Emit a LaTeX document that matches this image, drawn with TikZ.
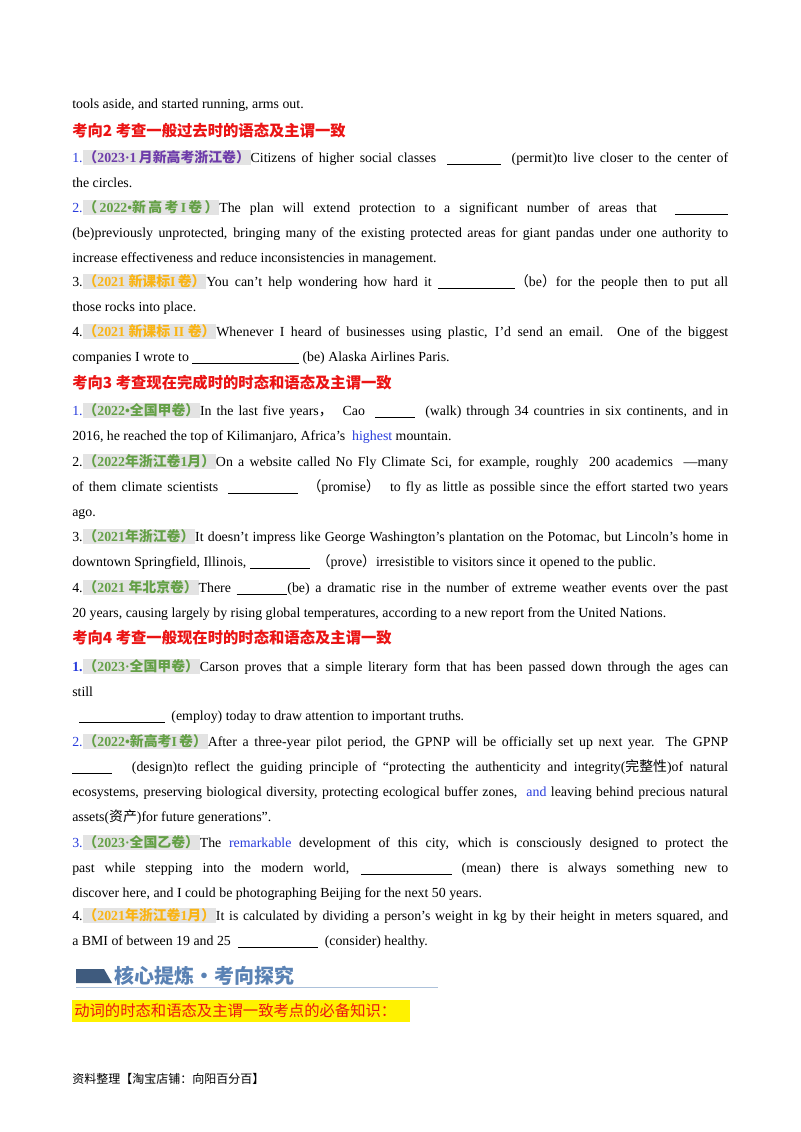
\documentclass[tikz,border=0pt]{standalone}
\usepackage{fontspec}
\setmainfont{Liberation Serif}
\newfontfamily\cjk{Noto Sans CJK SC}
\hyphenpenalty=10000
\definecolor{lblue}{RGB}{40,60,220}
\definecolor{lpurp}{RGB}{110,60,170}
\definecolor{lgreen}{RGB}{100,160,70}
\definecolor{lorange}{RGB}{250,180,20}
\definecolor{hred}{RGB}{235,20,20}
\definecolor{hdr}{RGB}{90,130,180}
\newcommand{\lab}[2]{{\setlength{\fboxsep}{0.6pt}\colorbox{gray!22}{\bfseries\color{#1}#2}}}
\newcommand{\C}[1]{{\cjk #1}}
\newcommand{\blank}[1]{\rule[-1.5pt]{#1}{0.5pt}}
\newcommand{\bl}[1]{{\color{lblue}#1}}
\tikzset{x=0.75pt,y=-0.75pt,
 para/.style={anchor=north west,inner sep=0pt,text width=492pt,align=justify,font=\fontsize{10.4pt}{18.75pt}\selectfont},
 head/.style={anchor=west,inner sep=0pt,font=\cjk\bfseries\fontsize{11.5pt}{14pt}\selectfont,text=hred}}
\begin{document}
\begin{tikzpicture}
\useasboundingbox[fill=white] (0,0) rectangle (800,1132);
\node[para] (p0) at (72,104-13) {\strut tools aside, and started running, arms out.\par};
\node[head] (h2) at (72,131) {考向2\ 考查一般过去时的语态及主谓一致};
\node[para] (q1) at (72,158-13) {\strut \bl{1.}\lab{lpurp}{\C{（}2023·1\,\C{月新高考浙江卷）}}Citizens of higher social classes \ \blank{40pt}\ \ (permit)to live closer to the center of\linebreak the circles.\par};
\node[para] (q2) at (72,208-13) {\strut \bl{2.}\lab{lgreen}{\C{（}\,2022•\C{新\,高\,考\,}I\,\C{卷\,）}}The plan will extend protection to a significant number of areas that \ \blank{40pt}\linebreak (be)previously unprotected, bringing many of the existing protected areas for giant pandas under one authority to\linebreak increase effectiveness and reduce inconsistencies in management.\par};
\node[para] (q3) at (72,282-13) {\strut 3.\lab{lorange}{\C{（}2021 \C{新课标}I\,\C{卷）}}You can’t help wondering how hard it \blank{58pt}\C{（}be\C{）}for the people then to put all\linebreak those rocks into place.\par};
\node[para] (q4) at (72,332-13) {\strut 4.\lab{lorange}{\C{（}2021 \C{新课标} II \C{卷）}}Whenever I heard of businesses using plastic, I'd send an email. One of the biggest\linebreak companies I wrote to \blank{80pt} (be) Alaska Airlines Paris.\par};
\node[head] (h3) at (72,383) {考向3\ 考查现在完成时的时态和语态及主谓一致};
\node[para] (r1) at (72,411-13) {\strut \bl{1.}\lab{lgreen}{\C{（}2022•\C{全国甲卷）}}In the last five years\C{，}\ \ Cao \ \blank{30pt}\ \ (walk) through 34 countries in six continents, and in\linebreak 2016, he reached the top of Kilimanjaro, Africa’s \ \bl{highest}\ mountain.\par};
\node[para] (r2) at (72,462-13) {\strut 2.\lab{lgreen}{\C{（}2022\C{年浙江卷}1\C{月）}}On a website called No Fly Climate Sci, for example, roughly \ 200 academics \ —many\linebreak of them climate scientists \ \blank{52pt} \ \C{（}promise\C{）} \ to fly as little as possible since the effort started two years\linebreak ago.\par};
\node[para] (r3) at (72,537-13) {\strut 3.\lab{lgreen}{\C{（}2021\C{年浙江卷）}}It doesn't impress like George Washington's plantation on the Potomac, but Lincoln's home in\linebreak downtown Springfield, Illinois, \blank{45pt} \ \C{（}prove\C{）}irresistible to visitors since it opened to the public.\par};
\node[para] (r4) at (72,588-13) {\strut 4.\lab{lgreen}{\C{（}2021 \C{年北京卷）}}There \blank{38pt}(be) a dramatic rise in the number of extreme weather events over the past\linebreak 20 years, causing largely by rising global temperatures, according to a new report from the United Nations.\par};
\node[head] (h4) at (72,638) {考向4\ 考查一般现在时的时态和语态及主谓一致};
\node[para] (s1) at (72,667-13) {\strut \bl{\textbf{1.}}\lab{lgreen}{\C{（}2023·\C{全国甲卷）}}Carson proves that a simple literary form that has been passed down through the ages can\linebreak still\par};
\node[para] (s1b) at (72,716-13) {\strut \ \ \blank{64pt} \ (employ) today to draw attention to important truths.\par};
\node[para] (s2) at (72,742-13) {\strut \bl{2.}\lab{lgreen}{\C{（}2022•\C{新高考}I\,\C{卷）}}After a three-year pilot period, the GPNP will be officially set up next year. The GPNP\linebreak \blank{30pt} \ \ (design)to reflect the guiding principle of “protecting the authenticity and integrity(\C{完整性})of natural\linebreak ecosystems, preserving biological diversity, protecting ecological buffer zones, \ \bl{and}\ leaving behind precious natural\linebreak assets(\C{资产})for future generations”.\par};
\node[para] (s3) at (72,843-13) {\strut \bl{3.}\lab{lgreen}{\C{（}2023·\C{全国乙卷）}}The \bl{remarkable} development of this city, which is consciously designed to protect the\linebreak past while stepping into the modern world, \blank{68pt} (mean) there is always something new to\linebreak discover here, and I could be photographing Beijing for the next 50 years.\par};
\node[para] (s4) at (72,916-13) {\strut 4.\lab{lorange}{\C{（}2021\C{年浙江卷}1\C{月）}}It is calculated by dividing a person’s weight in kg by their height in meters squared, and\linebreak a BMI of between 19 and 25 \ \blank{60pt} \ (consider) healthy.\par};
% header bar
\fill[hdr!70!black] (76,969) -- (104,969) -- (112,983) -- (76,983) -- cycle;
\node[anchor=west,inner sep=0pt,text=hdr,font=\cjk\bfseries\fontsize{15pt}{18pt}\selectfont] (hh) at (114,976) {核心提炼·考向探究};
\draw[hdr!50,line width=0.6pt] (76,987) -- (438,987);
\fill[yellow] (72,1000) rectangle (410,1022);
\node[anchor=west,inner sep=0pt,text=hred,font=\cjk\fontsize{11.5pt}{14pt}\selectfont] (yk) at (74,1011) {动词的时态和语态及主谓一致考点的必备知识：};
\node[anchor=west,inner sep=0pt,font=\cjk\fontsize{9pt}{11pt}\selectfont] (ft) at (72,1079) {资料整理【淘宝店铺：向阳百分百】};
\end{tikzpicture}
\end{document}
